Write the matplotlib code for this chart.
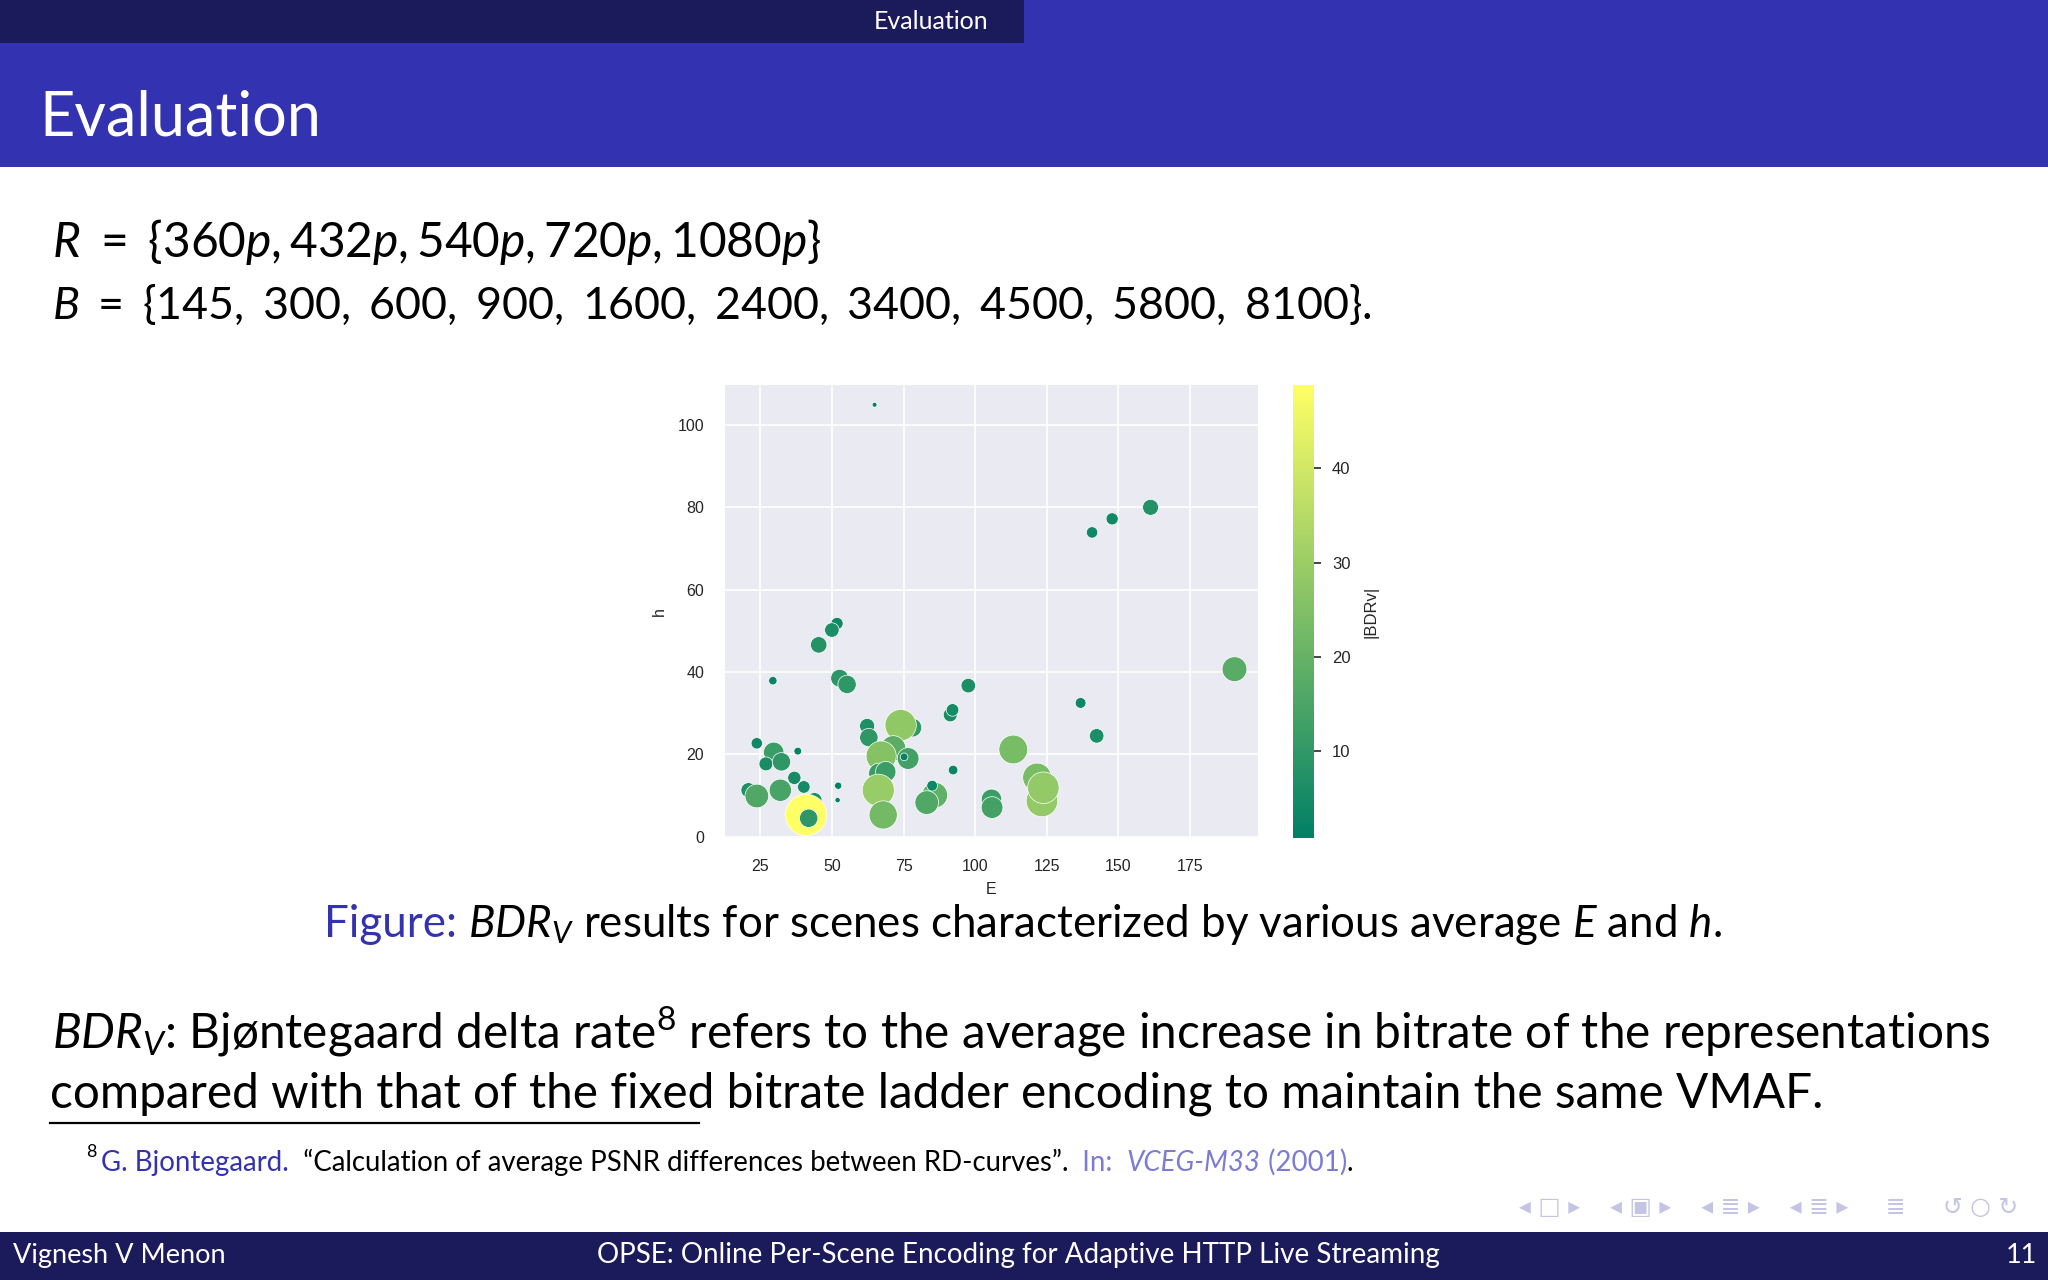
import matplotlib
matplotlib.use('Agg')
import matplotlib.pyplot as plt
from matplotlib.colors import Normalize
from matplotlib.cm import ScalarMappable
from matplotlib.patches import Rectangle

plt.rcParams['font.family'] = ['Lato', 'DejaVu Sans']
plt.rcParams['mathtext.fontset'] = 'custom'
plt.rcParams['mathtext.rm'] = 'Lato'
plt.rcParams['mathtext.it'] = 'Lato:italic'
plt.rcParams['mathtext.bf'] = 'Lato:bold'

# scene data (E = avg energy, h = avg gradient, |BDRv|)
E = [64.9, 51.8, 50.0, 45.4, 161.2, 147.8, 140.8, 190.5, 97.6, 136.8,
     142.4, 113.3, 121.6, 123.3, 123.8, 105.7, 105.9, 92.3, 91.3, 92.1,
     29.4, 52.7, 55.3, 62.3, 62.9, 78.1, 74.0, 71.4, 67.2, 76.6,
     75.2, 66.4, 68.8, 66.2, 67.9, 85.9, 83.1, 85.0, 52.2, 52.0,
     23.8, 38.1, 29.7, 27.0, 32.4, 36.9, 40.2, 20.9, 23.8, 32.0,
     43.9, 41.0, 41.9]
h = [104.9, 51.8, 50.2, 46.6, 80.0, 77.2, 73.9, 40.7, 36.7, 32.5,
     24.5, 21.2, 14.4, 8.7, 11.9, 9.1, 7.1, 16.2, 29.6, 30.8,
     37.9, 38.5, 37.0, 26.9, 24.1, 26.5, 27.1, 21.5, 19.6, 19.0,
     19.4, 15.4, 15.8, 11.3, 5.3, 10.1, 8.3, 12.4, 12.4, 8.9,
     22.7, 20.8, 20.5, 17.7, 18.2, 14.3, 12.1, 11.3, 9.9, 11.3,
     8.9, 5.3, 4.5]
bdr = [0.76, 4.3, 6.1, 7.8, 7.3, 4.3, 3.8, 17.6, 6.1, 3.4,
       6.1, 23.6, 23.6, 28.4, 28.4, 11.9, 13.5, 2.7, 5.6, 4.6,
       2.1, 9.1, 9.7, 6.6, 9.7, 10.0, 28.0, 18.0, 25.9, 13.5,
       1.8, 11.9, 11.9, 29.4, 22.7, 18.8, 16.0, 3.4, 1.6, 0.9,
       3.8, 1.8, 11.9, 5.6, 9.7, 5.1, 4.6, 6.6, 16.0, 14.2,
       6.6, 48.84, 9.7]

x_ticks = [25, 50, 75, 100, 125, 150, 175]
y_ticks = [0, 20, 40, 60, 80, 100]

BLUE = '#3333b2'
NAVY = '#1b1b5c'
LIGHT = '#7c7cd2'

fig = plt.figure(figsize=(20.48, 12.8), dpi=100)
bg = fig.add_axes([0, 0, 1, 1])
bg.set_xlim(0, 2048)
bg.set_ylim(1280, 0)
bg.axis('off')

# beamer frame decorations
bg.add_patch(Rectangle((0, 0), 1024, 43, color=NAVY, lw=0))
bg.add_patch(Rectangle((1024, 0), 1024, 43, color=BLUE, lw=0))
bg.add_patch(Rectangle((0, 43), 2048, 124, color=BLUE, lw=0))
bg.add_patch(Rectangle((0, 1232), 2048, 48, color=NAVY, lw=0))
bg.text(931, 29, 'Evaluation', color='white', fontsize=18, ha='center', va='baseline')
bg.text(39, 136, 'Evaluation', color='white', fontsize=44, va='baseline')

bg.text(52, 257, r'$R\ =\ \{360p, 432p, 540p, 720p, 1080p\}$', fontsize=34.5, va='baseline')
bg.text(52, 319, r'$B\ =\ \{145,$ $300,$ $600,$ $900,$ $1600,$ $2400,$ $3400,$ $4500,$ $5800,$ $8100\}$.',
        fontsize=32.2, va='baseline')

renderer = fig.canvas.get_renderer()


def chain(x, y, parts, size):
    for txt, col, style in parts:
        t = bg.text(x, y, txt, color=col, fontsize=size, style=style, va='baseline')
        x += t.get_window_extent(renderer).width
    return x


cap = [('Figure:', BLUE, 'normal'),
       (r' $BDR_V$ results for scenes characterized by various average $E$ and $h$.', 'black', 'normal')]
chain(324, 937, cap, 31.6)

bg.text(52, 1048, r'$BDR_V$: Bjøntegaard delta rate$^8$ refers to the average increase in bitrate of the representations',
        fontsize=34.4, va='baseline')
bg.text(50, 1108, 'compared with that of the fixed bitrate ladder encoding to maintain the same VMAF.',
        fontsize=34.4, va='baseline')
bg.plot([50, 699], [1123, 1123], color='black', lw=1.6)

bg.text(86, 1157, '8', fontsize=13, va='baseline')
foot = [('G. Bjontegaard.', BLUE, 'normal'),
        ('  “Calculation of average PSNR differences between RD-curves”.', 'black', 'normal'),
        ('  In:  ', LIGHT, 'normal'),
        ('VCEG-M33', LIGHT, 'italic'),
        (' (2001)', LIGHT, 'normal'),
        ('.', 'black', 'normal')]
chain(101, 1171, foot, 19.9)

bg.text(2018, 1214, '◂ □ ▸    ◂ ▣ ▸    ◂ ≣ ▸    ◂ ≣ ▸     ≣     ↺ ○ ↻', color='#c4c4e4', fontsize=17,
        ha='right', va='baseline', family=['DejaVu Sans'])

bg.text(13, 1263, 'Vignesh V Menon', color='white', fontsize=19.5, va='baseline')
bg.text(1018, 1263, 'OPSE: Online Per-Scene Encoding for Adaptive HTTP Live Streaming', color='white',
        fontsize=20, ha='center', va='baseline')
bg.text(2037, 1263, '11', color='white', fontsize=19.5, ha='right', va='baseline')

# the scatter plot (seaborn darkgrid look)
ax = fig.add_axes([725 / 2048, 1 - 838 / 1280, 533 / 2048, 453 / 1280])
ax.set_facecolor('#eaeaf2')
for sp in ax.spines.values():
    sp.set_visible(False)
ax.grid(True, color='white', lw=1.2)
ax.set_axisbelow(True)

norm = Normalize(vmin=min(bdr), vmax=max(bdr))
smin, smax = 12.0, 888.0
sizes = [smin + (v - min(bdr)) / (max(bdr) - min(bdr)) * (smax - smin) for v in bdr]
ax.scatter(E, h, s=sizes, c=bdr, cmap='summer', norm=norm, edgecolors='white',
           linewidths=0.5, zorder=3)

ax.set_xlim(12.7, 198.7)
ax.set_ylim(-0.3, 109.7)
ax.set_xticks(x_ticks)
ax.set_yticks(y_ticks)
ax.tick_params(length=0, pad=15, labelsize=11.5, labelcolor='#262626', labelfontfamily='Liberation Sans')
ax.set_xlabel('E', fontsize=11.5, color='#262626', family='Liberation Sans', labelpad=6)
ax.set_ylabel('h', fontsize=11.5, color='#262626', family='Liberation Sans', labelpad=8)

cax = fig.add_axes([1293 / 2048, 1 - 838 / 1280, 21 / 2048, 453 / 1280])
cb = fig.colorbar(ScalarMappable(norm=norm, cmap='summer'), cax=cax)
cb.outline.set_visible(False)
cb.set_ticks([10, 20, 30, 40])
cax.tick_params(length=5, width=1.2, color='#262626', pad=8, labelsize=12,
                labelcolor='#262626', labelfontfamily='Liberation Sans')
cb.set_label('|BDRv|', fontsize=12, color='#262626', family='Liberation Sans', labelpad=9)

fig.savefig('out.png', dpi=100)
